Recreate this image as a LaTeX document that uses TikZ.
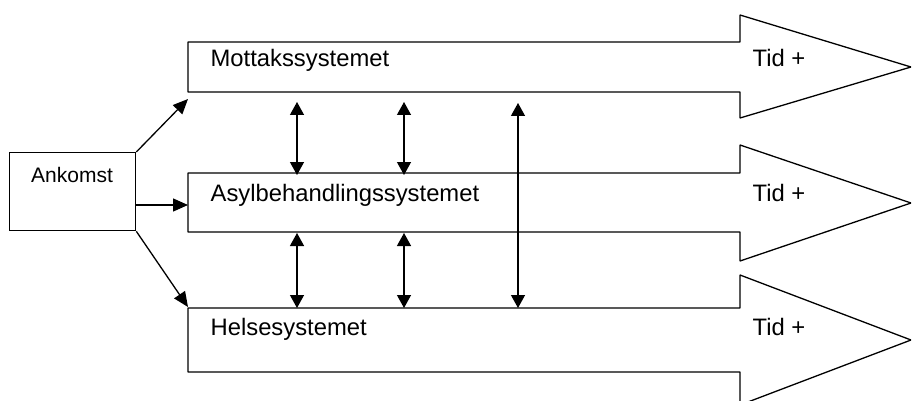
\documentclass[tikz,border=0pt]{standalone}
\usepackage{fontspec}
\setmainfont{Liberation Sans}
\usetikzlibrary{arrows.meta}
\begin{document}
\begin{tikzpicture}[x=1pt,y=-1pt,line width=1.3pt,
  bigarrow/.style={draw=black,line join=bevel},
  lbl/.style={anchor=base west,inner sep=0pt,font=\fontsize{23.8}{28}\selectfont},
  link/.style={-{Triangle[length=15pt,width=13pt]}},
  both/.style={{Triangle[length=13pt,width=14pt]}-{Triangle[length=13pt,width=14pt]}}]
\useasboundingbox[fill=white] (0,0) rectangle (912,401);
% big arrows
\draw[bigarrow] (188,42) -- (740,42) -- (740,15) -- (911,67) -- (740,118) -- (740,92) -- (188,92) -- cycle;
\draw[bigarrow] (188,173) -- (740,173) -- (740,145) -- (911,203) -- (740,261) -- (740,232) -- (188,232) -- cycle;
\draw[bigarrow] (188,308) -- (740,308) -- (740,275) -- (911,340) -- (740,405) -- (740,372) -- (188,372) -- cycle;
% labels
\node[lbl] (mot) at (210,67) {Mottakssystemet};
\node[lbl] (asy) at (210,201) {Asylbehandlingssystemet};
\node[lbl] (hel) at (210,335) {Helsesystemet};
\node[lbl] (t1) at (752,67) {Tid +};
\node[lbl] (t2) at (752,201) {Tid +};
\node[lbl] (t3) at (752,335) {Tid +};
% Ankomst
\node[draw,minimum width=126pt,minimum height=78pt,inner sep=0pt,anchor=north west] (ank) at (9,152) {};
\node[anchor=base,inner sep=0pt,font=\fontsize{21}{25}\selectfont] (ankt) at (72,182) {Ankomst};
% entry points
\coordinate (m-in) at (188,99);
\coordinate (a-in) at (188,205);
\coordinate (h-in) at (188,307);
\draw[link] (ank.north east) -- (m-in);
\draw[link] (a-in -| ank.east) -- (a-in);
\draw[link] (ank.south east) -- (h-in);
% vertical links
\coordinate (v1a) at (297,102); \coordinate (v1b) at (297,175);
\coordinate (v2a) at (404,102); \coordinate (v2b) at (404,175);
\coordinate (v3a) at (297,233); \coordinate (v3b) at (297,308);
\coordinate (v4a) at (404,233); \coordinate (v4b) at (404,308);
\coordinate (v5a) at (518,103); \coordinate (v5b) at (518,308);
\draw[both] (v1a) -- (v1b);
\draw[both] (v2a) -- (v2b);
\draw[both] (v3a) -- (v3b);
\draw[both] (v4a) -- (v4b);
\draw[both] (v5a) -- (v5b);
\end{tikzpicture}
\end{document}
